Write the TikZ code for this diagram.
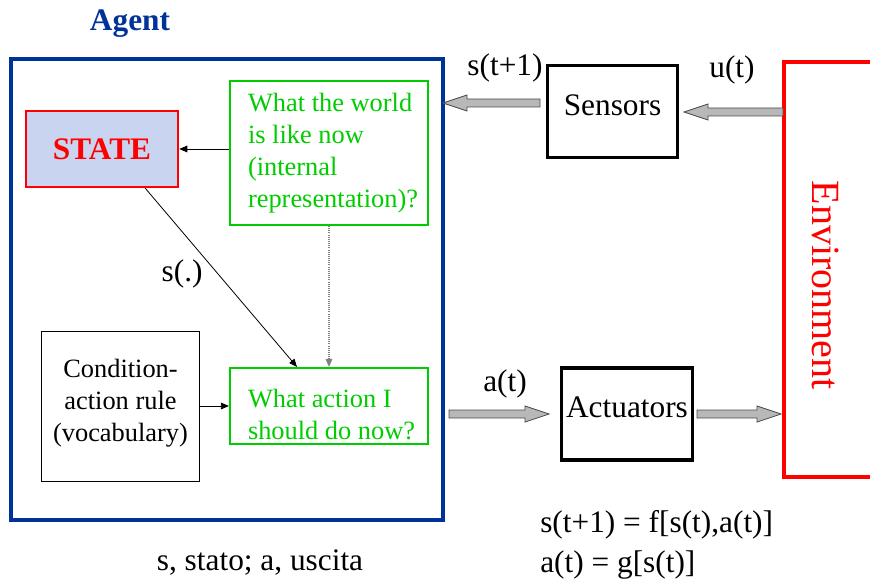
\documentclass[tikz,border=0pt]{standalone}
\usepackage{fontspec}
\setmainfont{Liberation Serif}
\usetikzlibrary{calc,arrows.meta}
\definecolor{agentblue}{RGB}{0,51,153}
\definecolor{grn}{RGB}{0,204,0}
\definecolor{stfill}{RGB}{200,212,240}
\definecolor{envred}{RGB}{255,0,0}
\newcommand\fatarrow[2]{%
  \draw[fatarr] let \p1=(#1), \p2=(#2), \p3=($(#2)!18pt!(#1)$) in
    (\x1,\y1+3pt) -- (\x3,\y1+3pt) -- (\x3,\y1+6pt) -- (\x2,\y2)
    -- (\x3,\y1-6pt) -- (\x3,\y1-3pt) -- (\x1,\y1-3pt) -- cycle;}
\newcommand\bigtxt{\fontsize{23.5}{28}\selectfont}
\newcommand\midtxt{\fontsize{19.8}{24}\selectfont}
\newcommand\gtext[1]{\begin{tabular}{@{\hspace{13.5pt}}p{135pt}@{}}#1\end{tabular}}
\newcommand\shiftup[2]{\raisebox{#1}[\height][\depth]{#2}}
\tikzset{
  fatarr/.style={fill=black!28, draw=black!70, line width=0.6pt},
  thinarr/.style={-{Triangle[length=6pt,width=5pt]}, line width=0.6pt},
  greenbox/.style={draw=grn, line width=1.6pt, text=grn, font=\midtxt,
     minimum width=148.5pt, inner xsep=0pt, inner ysep=0pt},
  blackbox/.style={draw=black, line width=2.3pt, font=\bigtxt, minimum width=97.5pt, minimum height=69pt},
  lbl/.style={font=\bigtxt}
}
\begin{document}
\begin{tikzpicture}[x=0.75pt,y=-0.75pt]
\useasboundingbox (0,0) rectangle (870,581);
% Agent
\node[font=\bigtxt\bfseries, text=agentblue] (agentlbl) at (130,24) {Agent};
\draw[agentblue, line width=2.3pt] (11,59) rectangle (443,520);
% STATE
\node[draw=envred, fill=stfill, line width=1.9pt, minimum width=114pt, minimum height=57pt,
      font=\bigtxt\bfseries, text=envred] (state) at (102,149) {STATE};
% world box
\node[greenbox, minimum height=108pt] (world) at (329,153)
  {\gtext{What the world\\is like now\\(internal\\representation)?}};
% action box
\node[greenbox, minimum height=57pt] (act) at (329,406)
  {\shiftup{-8pt}{\gtext{What action I\\should do now?}}};
% condition box
\node[draw=black, line width=0.75pt, minimum width=119pt, minimum height=113pt,
      font=\midtxt, align=center] (cond) at (120.5,406.5)
  {\shiftup{2.5pt}{\begin{tabular}{@{}c@{}}Condition-\\action rule\\(vocabulary)\end{tabular}}};
% internal connectors
\draw[thinarr] (world.west |- state.east) -- (state.east);
\draw[thinarr, gray, densely dotted, line width=0.8pt] (world.south) -- (act.north);
\draw[thinarr] ($(state.south west)!0.78!(state.south east)$) -- ($(act.north west)!0.34!(act.north east)$)
   node[pos=0.48, left=8pt, lbl, text=black] {s(.)};
\draw[thinarr] (cond.east |- act.west) -- (act.west);
% Sensors and Actuators
\node[blackbox] (sens) at (612.5,111.5) {\shiftup{4.5pt}{Sensors}};
\node[blackbox] (actu) at (627,414) {\shiftup{5pt}{Actuators}};
% Environment
\draw[envred, line width=2.3pt] (872,62) -- (784,62) -- (784,477) -- (872,477);
\node[rotate=-90, text=envred, font=\fontsize{30}{34}\selectfont] (env) at (826,285) {Environment};
% block arrow end points
\coordinate (envin) at (783,112);
\coordinate (sensin) at (684,112);
\coordinate (sensout) at (540,103);
\coordinate (agentin) at (443,103);
\coordinate (agentout) at (449,414);
\coordinate (actuin) at (549,414);
\coordinate (actuout) at (697,414);
\coordinate (envout) at (781,414);
\fatarrow{envin}{sensin}
\fatarrow{sensout}{agentin}
\fatarrow{agentout}{actuin}
\fatarrow{actuout}{envout}
% labels
\node[lbl] (lst) at (505,68) {s(t+1)};
\node[lbl] (lut) at (732,70) {u(t)};
\node[lbl] (lat) at (505,384) {a(t)};
\node[lbl] (bot) at (260,563) {s, stato; a, uscita};
\node[lbl, anchor=west, inner sep=0pt] (eq1) at (540,525) {s(t+1) = f[s(t),a(t)]};
\node[lbl, anchor=west, inner sep=0pt] (eq2) at (540,565) {a(t) = g[s(t)]};
\end{tikzpicture}
\end{document}
